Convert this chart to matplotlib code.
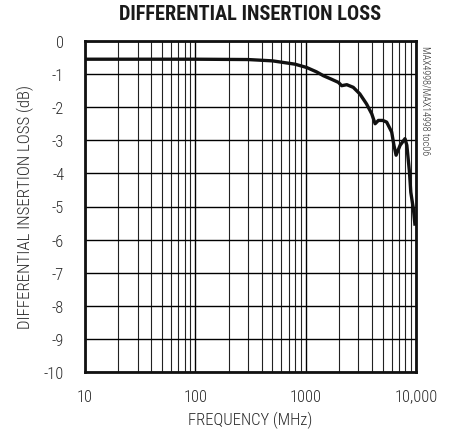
import matplotlib
matplotlib.use("Agg")
import matplotlib.pyplot as plt
import numpy as np
from matplotlib.ticker import FixedLocator, NullFormatter, LogLocator

freq_mhz = [10, 30, 100, 300, 500, 800, 1020, 1250, 1450, 1700, 1980, 2120, 2360, 2700,
            3100, 3560, 3970, 4260, 4560, 5000, 5420, 6020, 6310, 6600, 7180, 7950,
            8260, 8720, 8970, 9480, 9770]
loss_db = [-0.55, -0.55, -0.55, -0.56, -0.6, -0.7, -0.8, -0.93, -1.05, -1.15, -1.25, -1.35,
           -1.32, -1.4, -1.6, -1.9, -2.2, -2.5, -2.4, -2.4, -2.45, -2.75, -3.15, -3.45,
           -3.15, -2.95, -3.15, -3.95, -4.57, -5.08, -5.53]

x_ticks = [10, 100, 1000, 10000]
x_tick_labels = ["10", "100", "1000", "10,000"]
y_ticks = list(range(0, -11, -1))

fig = plt.figure(figsize=(4.49, 4.39), dpi=100)
ax = fig.add_axes([85/449, 1-373/439, (416-85)/449, (373-42)/439])

narrow = ["Roboto Condensed", "DejaVu Sans"]
txtcol = "#2a2a2a"
lw_text = "light"

ax.set_xscale("log")
ax.set_xlim(10, 10000)
ax.set_ylim(-10, 0)

ax.xaxis.set_major_locator(FixedLocator(x_ticks))
ax.xaxis.set_minor_locator(LogLocator(base=10, subs=np.arange(2, 10)))
ax.xaxis.set_minor_formatter(NullFormatter())
ax.set_xticks(x_ticks)
ax.set_xticklabels(x_tick_labels, family=narrow, fontsize=11.8, color=txtcol, weight=lw_text)
ax.set_yticks(y_ticks)
ax.set_yticklabels([str(v) for v in y_ticks], family=narrow, fontsize=11.8, color=txtcol, weight=lw_text)
ax.tick_params(axis="both", which="both", length=0)
ax.tick_params(axis="y", pad=15)
ax.tick_params(axis="x", pad=12)

ax.grid(True, which="major", color="black", linewidth=1.0)
ax.grid(True, which="minor", axis="x", color="#222222", linewidth=0.8)
for s in ax.spines.values():
    s.set_linewidth(2.0)
    s.set_color("#111111")

ax.plot(freq_mhz, loss_db, color="#111111", linewidth=2.4, zorder=5)

ax.set_xlabel("FREQUENCY (MHz)", family=narrow, fontsize=12, color=txtcol, weight=lw_text, labelpad=5)
fig.text(25/449, 1-207/439, "DIFFERENTIAL INSERTION LOSS (dB)", ha="center", va="center",
         rotation=90, family=narrow, fontsize=12.2, color=txtcol, weight=lw_text)

fig.text(250.5/449, 1-14/439, "DIFFERENTIAL INSERTION LOSS", ha="center", va="center",
         family=["Roboto Condensed", "DejaVu Sans"], weight="black", fontsize=14.7, color="#1a1a1a")
fig.text(426/449, 1-46/439, "MAX4998/MAX14998 toc06", ha="center", va="top", rotation=270,
         family=narrow, fontsize=7.3, color=txtcol, weight=lw_text)

fig.savefig("out.png", dpi=100)
